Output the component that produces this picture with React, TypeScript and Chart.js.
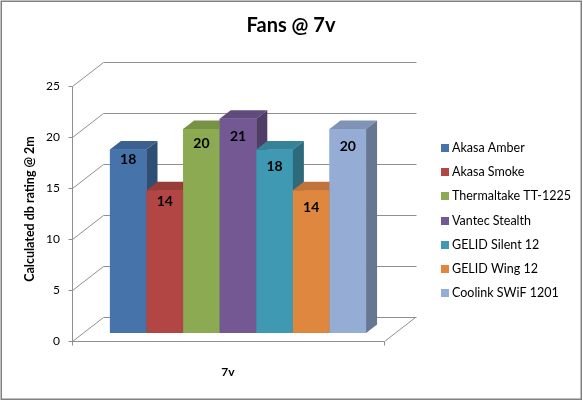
import React, { useEffect, useRef } from 'react';
import { Chart, registerables } from 'chart.js';

Chart.register(...registerables);

// ---- data ----
const categories = ['7v'];
const fanNames = [
  'Akasa Amber',
  'Akasa Smoke',
  'Thermaltake TT-1225',
  'Vantec Stealth',
  'GELID Silent 12',
  'GELID Wing 12',
  'Coolink SWiF 1201',
];
const fanValues = [18, 14, 20, 21, 18, 14, 20];
const yMin = 0;
const yMax = 25;
const yStep = 5;
const chartTitle = 'Fans @ 7v';
const yAxisTitle = 'Calculated db rating @ 2m';

// ---- styles ----
const frontColors = ['#4674AA', '#B24644', '#8CAA52', '#735894', '#4099B3', '#E0873F', '#95ADD5'];
const topColors = ['#3B6192', '#983B39', '#779145', '#614A7E', '#368399', '#C0733A', '#8093B6'];
const sideColors = ['#2F4E74', '#7C302E', '#617638', '#4F3C67', '#2C6A7C', '#9C5D2E', '#667791'];
const labelDrop = [10, 11.5, 14, 18, 17, 17, 17.6];

const FONT = 'Lato, "Open Sans", sans-serif';
const WALL_DX = 31;
const WALL_DY = 24;
const BAR_SHIFT_X = 10;
const BAR_SHIFT_Y = -8;
const BAR_DX = 11;
const BAR_DY = 8.5;
const GRID = '#8f8f8f';

const threeD = {
  id: 'threeD',
  beforeDatasetsDraw(chart: any) {
    const { ctx, chartArea } = chart;
    const y = chart.scales.y;
    const L = chartArea.left;
    const R = chartArea.right;
    const B = chartArea.bottom;
    ctx.save();
    ctx.strokeStyle = GRID;
    ctx.lineWidth = 1;
    const h = (v: number) => Math.round(v) + 0.5;
    for (let v = yMin; v <= yMax; v += yStep) {
      const py = y.getPixelForValue(v);
      ctx.beginPath();
      ctx.moveTo(h(L) - 4, h(py));
      ctx.lineTo(h(L), h(py));
      ctx.lineTo(h(L + WALL_DX), h(py - WALL_DY));
      ctx.lineTo(h(R + WALL_DX + 1), h(py - WALL_DY));
      ctx.stroke();
    }
    ctx.beginPath();
    ctx.moveTo(h(L), h(chartArea.top));
    ctx.lineTo(h(L), h(B) + 4);
    ctx.stroke();
    ctx.beginPath();
    ctx.moveTo(h(L), h(B));
    ctx.lineTo(h(R), h(B));
    ctx.lineTo(h(R + WALL_DX), h(B - WALL_DY));
    ctx.stroke();
    ctx.beginPath();
    ctx.moveTo(h(R), h(B));
    ctx.lineTo(h(R), h(B) + 4);
    ctx.stroke();
    ctx.restore();

    ctx.save();
    ctx.translate(BAR_SHIFT_X, BAR_SHIFT_Y);
  },
  afterDatasetsDraw(chart: any) {
    const { ctx } = chart;
    chart.data.datasets.forEach((ds: any, i: number) => {
      const meta = chart.getDatasetMeta(i);
      meta.data.forEach((bar: any, j: number) => {
        const { x, y, base, width } = bar.getProps(['x', 'y', 'base', 'width'], true);
        const x0 = x - width / 2;
        const x1 = x + width / 2;
        ctx.fillStyle = frontColors[i];
        ctx.fillRect(x0, y, width, base - y);
        ctx.fillStyle = topColors[i];
        ctx.beginPath();
        ctx.moveTo(x0, y);
        ctx.lineTo(x1, y);
        ctx.lineTo(x1 + BAR_DX, y - BAR_DY);
        ctx.lineTo(x0 + BAR_DX, y - BAR_DY);
        ctx.closePath();
        ctx.fill();
        ctx.fillStyle = sideColors[i];
        ctx.beginPath();
        ctx.moveTo(x1, y);
        ctx.lineTo(x1 + BAR_DX, y - BAR_DY);
        ctx.lineTo(x1 + BAR_DX, base - BAR_DY);
        ctx.lineTo(x1, base);
        ctx.closePath();
        ctx.fill();
        ctx.fillStyle = '#000';
        ctx.font = `bold 14px ${FONT}`;
        ctx.textAlign = 'center';
        ctx.textBaseline = 'middle';
        ctx.fillText(String(ds.data[j]), x, y + labelDrop[i]);
      });
    });
    ctx.restore();
  },
  afterDraw(chart: any) {
    const { ctx } = chart;
    // chart title
    ctx.save();
    ctx.fillStyle = '#000';
    ctx.font = `bold 20px ${FONT}`;
    ctx.textAlign = 'center';
    ctx.textBaseline = 'middle';
    ctx.fillText(chartTitle, 291, 26);
    ctx.restore();

    // y axis title
    ctx.save();
    ctx.translate(30, 209);
    ctx.rotate(-Math.PI / 2);
    ctx.fillStyle = '#000';
    ctx.font = `bold 12.5px ${FONT}`;
    ctx.textAlign = 'center';
    ctx.textBaseline = 'middle';
    ctx.fillText(yAxisTitle, 0, 0);
    ctx.restore();

    // legend
    ctx.save();
    ctx.font = `12.5px ${FONT}`;
    ctx.textBaseline = 'middle';
    ctx.textAlign = 'left';
    chart.data.datasets.forEach((ds: any, i: number) => {
      const cy = 148 + i * 24.2;
      ctx.fillStyle = frontColors[i];
      ctx.fillRect(441, Math.round(cy) - 4, 8, 8);
      ctx.fillStyle = '#000';
      ctx.fillText(ds.label, 452, cy);
    });
    ctx.restore();

    // outer border
    ctx.save();
    ctx.strokeStyle = '#808080';
    ctx.lineWidth = 1.5;
    ctx.strokeRect(1.25, 1.25, 580, 398);
    ctx.restore();
  },
};

export default function App() {
  const ref = useRef<HTMLCanvasElement | null>(null);

  useEffect(() => {
    document.body.style.margin = '0';
    const canvas = ref.current;
    if (!canvas) return;
    const chart = new Chart(canvas, {
      type: 'bar',
      data: {
        labels: categories,
        datasets: fanNames.map((name, i) => ({
          label: name,
          data: [fanValues[i]],
          backgroundColor: frontColors[i],
          borderWidth: 0,
          barPercentage: 1,
          categoryPercentage: 0.821,
        })),
      },
      options: {
        responsive: false,
        animation: false,
        devicePixelRatio: 1,
        layout: { padding: { left: 0, top: 86, right: 199, bottom: 0 } },
        plugins: {
          legend: { display: false },
          tooltip: { enabled: false },
          title: { display: false },
        },
        scales: {
          x: {
            grid: { display: false, drawTicks: false },
            border: { display: false },
            ticks: {
              color: '#000',
              font: { family: FONT, size: 12, weight: 'bold' },
              padding: 24,
            },
            afterFit: (s: any) => {
              s.height = 60;
            },
          },
          y: {
            min: yMin,
            max: yMax,
            grid: { display: false, drawTicks: false },
            border: { display: false },
            ticks: {
              stepSize: yStep,
              color: '#000',
              font: { family: FONT, size: 12 },
              padding: 12,
            },
            afterFit: (s: any) => {
              s.width = 72;
            },
          },
        },
      },
      plugins: [threeD],
    });
    return () => chart.destroy();
  }, []);

  return <canvas ref={ref} width={583} height={401} style={{ display: 'block' }} />;
}
